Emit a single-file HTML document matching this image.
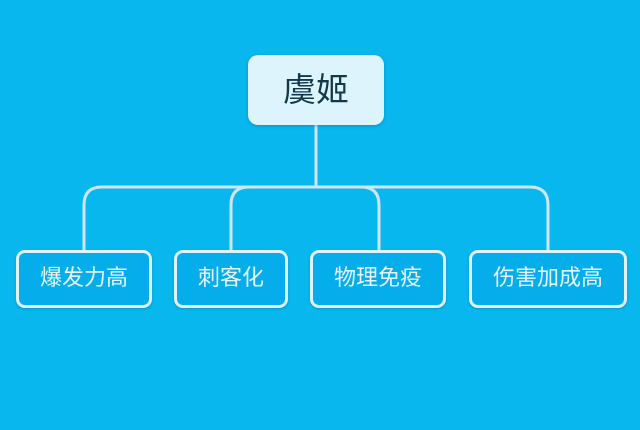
<!DOCTYPE html>
<html>
<head>
<meta charset="utf-8">
<style>
html,body{margin:0;padding:0}
body{width:640px;height:430px;overflow:hidden;background:#08b7ee;position:relative;font-family:"Liberation Sans","Noto Sans CJK SC",sans-serif}
svg{position:absolute;left:0;top:0}
.n{position:absolute;box-sizing:border-box;display:flex;align-items:center;justify-content:center;white-space:nowrap}
.c{height:58px;top:250px;padding-bottom:6px;border:3px solid #dff1f9;border-radius:9px;background:#05aeea;color:#e6f6fc;font-size:22px;box-shadow:0 1px 2px rgba(0,90,140,.35)}
</style>
</head>
<body>
<svg width="640" height="430" viewBox="0 0 640 430">
<g fill="none" stroke="#cfe6f2" stroke-width="3">
<path d="M316 124V187"/>
<path d="M84 250V205Q84 187 102 187H530Q548 187 548 205V250"/>
<path d="M231 250V205Q231 187 249 187H361Q379 187 379 205V250"/>
</g>
</svg>
<div class="n" style="left:248px;top:55px;width:136px;height:70px;padding-bottom:7px;background:#def4fd;border-radius:10px;color:#12384c;font-size:33px;box-shadow:0 1px 3px rgba(0,90,140,.4)">虞姬</div>
<div class="n c" style="left:16px;width:136px">爆发力高</div>
<div class="n c" style="left:174px;width:114px">刺客化</div>
<div class="n c" style="left:310px;width:136px">物理免疫</div>
<div class="n c" style="left:469px;width:158px">伤害加成高</div>
</body>
</html>
